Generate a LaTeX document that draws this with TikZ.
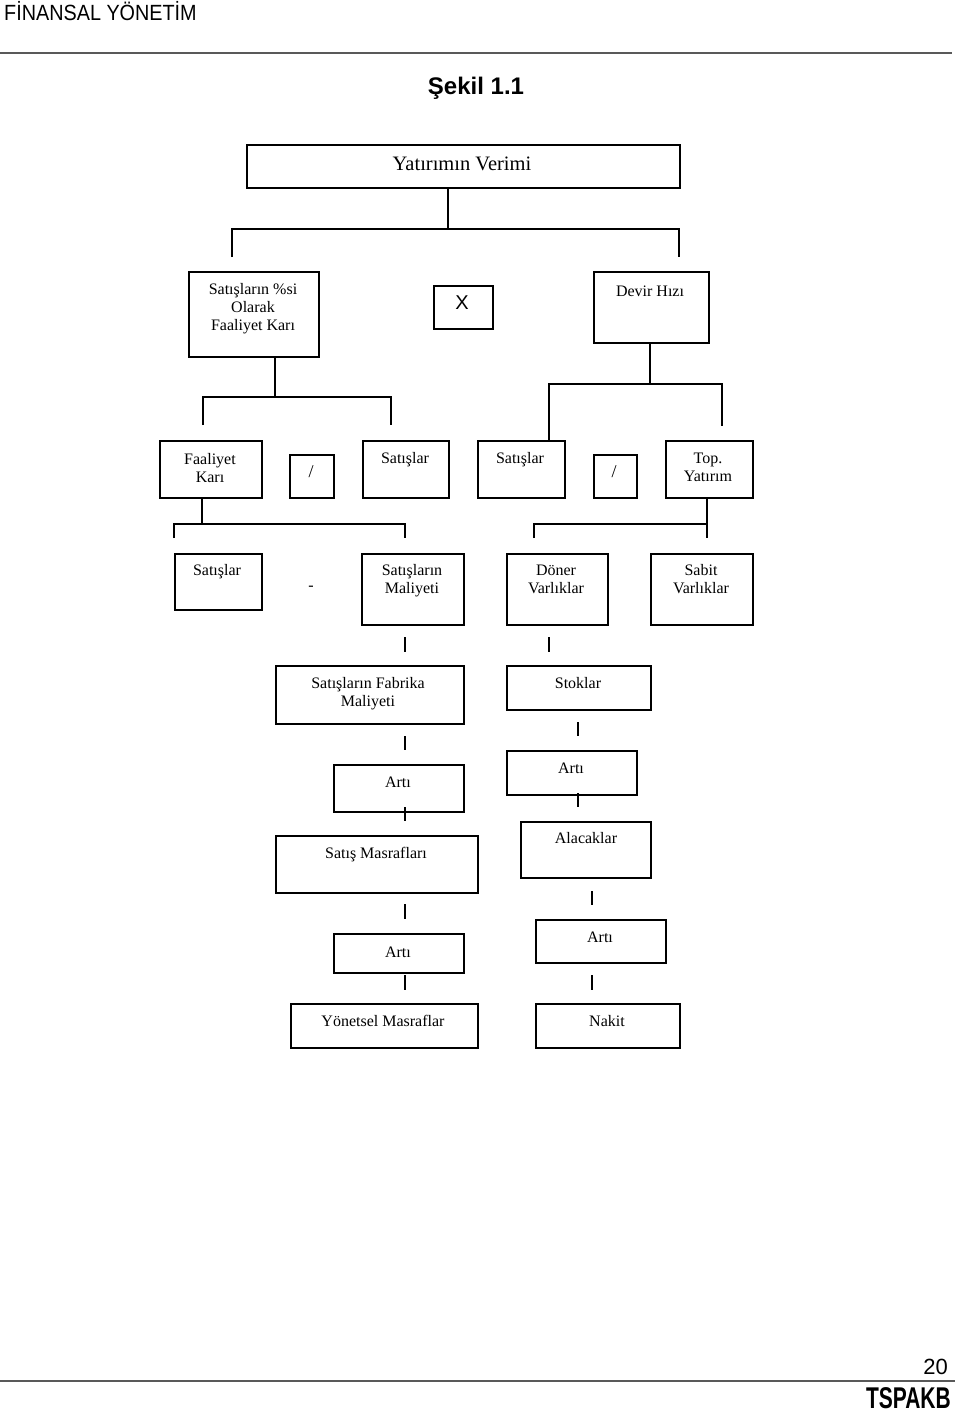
\documentclass[tikz,border=0pt]{standalone}
\usepackage{fontspec}
\usepackage{graphicx}
\setmainfont{Liberation Serif}
\newfontfamily\sansf{Liberation Sans}
\newcommand\mkbox[5]{\node[box, minimum width=#4pt, minimum height=#5pt] (#1) at (#2,#3) {};}
\begin{document}
\begin{tikzpicture}[x=1pt,y=-1pt,
  box/.style={draw, line width=1.8pt, inner sep=0, anchor=north west},
  lbl/.style={font=\fontsize{16}{17.6}\selectfont, align=center, anchor=base, inner sep=0},
  conn/.style={line width=1.8pt},
  rule/.style={line width=2pt, black!65},
]
\useasboundingbox (0,0) rectangle (960,1413);

% header / footer
\node[font=\sansf\fontsize{22}{22}\selectfont, anchor=base west, inner sep=0] (hdr) at (4,21) {\scalebox{0.9}[1]{FİNANSAL YÖNETİM}};
\coordinate (hl1) at (0,53); \coordinate (hl2) at (952,53);
\draw[rule] (hl1) -- (hl2);
\node[font=\sansf\bfseries\fontsize{24}{24}\selectfont, anchor=base, inner sep=0] (title) at (476,95) {Şekil 1.1};
\node[font=\sansf\fontsize{22}{22}\selectfont, anchor=base east, inner sep=0] (pg) at (948,1374) {20};
\coordinate (fl1) at (0,1381); \coordinate (fl2) at (955,1381);
\draw[line width=1.5pt, black!65] (fl1) -- (fl2);
\node[font=\sansf\bfseries\fontsize{30}{30}\selectfont, anchor=base east, inner sep=0] (logo) at (951,1408) {\scalebox{0.7}[1]{TSPAKB}};

% boxes: name, left, top, width, height
\mkbox{yv}{246}{144}{433}{43}
\mkbox{spk}{188}{271}{130}{85}
\mkbox{xb}{433}{285}{59}{43}
\mkbox{dh}{593}{271}{115}{71}
\mkbox{fk}{159}{440}{102}{57}
\mkbox{slA}{289}{454}{44}{43}
\mkbox{satA}{362}{440}{86}{57}
\mkbox{satB}{477}{440}{87}{57}
\mkbox{slB}{593}{454}{43}{43}
\mkbox{ty}{665}{440}{87}{57}
\mkbox{satC}{174}{553}{87}{56}
\mkbox{sm}{361}{553}{102}{71}
\mkbox{dv}{506}{553}{101}{71}
\mkbox{sv}{650}{553}{102}{71}
\mkbox{sfm}{275}{665}{188}{58}
\mkbox{st}{506}{665}{144}{44}
\mkbox{aA}{333}{764}{130}{47}
\mkbox{aB}{506}{750}{130}{44}
\mkbox{smas}{275}{835}{202}{57}
\mkbox{al}{520}{821}{130}{56}
\mkbox{aC}{333}{933}{130}{39}
\mkbox{aD}{535}{919}{130}{43}
\mkbox{ym}{290}{1003}{187}{44}
\mkbox{nk}{535}{1003}{144}{44}

% labels (multi-line: base = last line's baseline)
\node[lbl, font=\fontsize{20.5}{20.5}\selectfont] (tyv) at (462,170) {Yatırımın Verimi};
\node[lbl] (tspk) at (253,330) {Satışların \%si\\Olarak\\Faaliyet Karı};
\node[font=\sansf\fontsize{20}{20}\selectfont, inner sep=0] (txb) at (462,303) {X};
\node[lbl] (tdh) at (650,296) {Devir Hızı};
\node[lbl] (tfk) at (210,482) {Faaliyet\\Karı};
\node[lbl, font=\fontsize{18}{18}\selectfont] (tslA) at (311,477) {/};
\node[lbl] (tsatA) at (405,463) {Satışlar};
\node[lbl] (tsatB) at (520,463) {Satışlar};
\node[lbl, font=\fontsize{18}{18}\selectfont] (tslB) at (614,477) {/};
\node[lbl] (tty) at (708,481) {Top.\\Yatırım};
\node[lbl] (tsatC) at (217,575) {Satışlar};
\node[lbl] (tminus) at (311,590) {-};
\node[lbl] (tsm) at (412,593) {Satışların\\Maliyeti};
\node[lbl] (tdv) at (556,593) {Döner\\Varlıklar};
\node[lbl] (tsv) at (701,593) {Sabit\\Varlıklar};
\node[lbl] (tsfm) at (368,706) {Satışların Fabrika\\Maliyeti};
\node[lbl] (tst) at (578,688) {Stoklar};
\node[lbl] (taA) at (398,787) {Artı};
\node[lbl] (taB) at (571,773) {Artı};
\node[lbl] (tsmas) at (376,858) {Satış Masrafları};
\node[lbl] (tal) at (586,843) {Alacaklar};
\node[lbl] (taC) at (398,957) {Artı};
\node[lbl] (taD) at (600,942) {Artı};
\node[lbl] (tym) at (383,1026) {Yönetsel Masraflar};
\node[lbl] (tnk) at (607,1026) {Nakit};

% tree connectors
\coordinate (j1) at (448,229);
\coordinate (d1l) at (232,257); \coordinate (d1r) at (679,257);
\draw[conn] (yv.south -| j1) -- (j1);
\draw[conn] (d1l) |- (j1) -| (d1r);

\coordinate (j2) at (275,397);
\coordinate (d2l) at (203,425); \coordinate (d2r) at (391,425);
\draw[conn] (spk.south -| j2) -- (j2);
\draw[conn] (d2l) |- (j2) -| (d2r);

\coordinate (j3) at (650,384);
\coordinate (d3l) at (549,440); \coordinate (d3r) at (722,426);
\draw[conn] (dh.south -| j3) -- (j3);
\draw[conn] (satB.north -| d3l) |- (j3) -| (d3r);

\coordinate (j4) at (202,524);
\coordinate (d4l) at (174,538); \coordinate (d4r) at (405,538);
\draw[conn] (fk.south -| j4) -- (j4);
\draw[conn] (d4l) |- (j4) -| (d4r);

\coordinate (j5) at (707,524);
\coordinate (d5l) at (534,538); \coordinate (d5r) at (707,538);
\draw[conn] (ty.south -| j5) -- (d5r);
\draw[conn] (d5l) |- (j5);

% short marks
\foreach \n/\x/\ya/\yb in {m1/405/637/652, m2/549/637/652, m3/405/736/750, m4/578/722/736,
  m5/405/807/821, m6/578/793/807, m7/405/904/919, m8/592/891/905, m9/405/975/990, m10/592/975/990}{
  \coordinate (\n a) at (\x,\ya); \coordinate (\n b) at (\x,\yb);
  \draw[conn] (\n a) -- (\n b);
}
\end{tikzpicture}
\end{document}
